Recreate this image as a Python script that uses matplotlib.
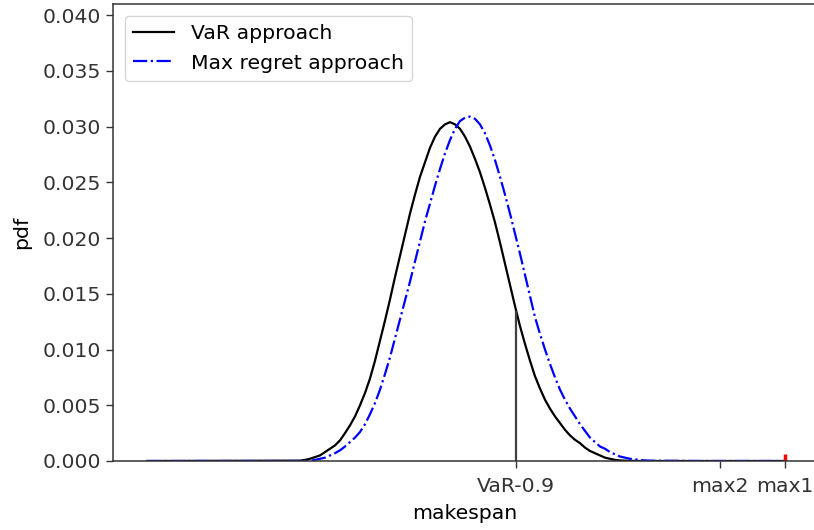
import matplotlib
matplotlib.use("Agg")
import matplotlib.pyplot as plt

# makespan grid shared by both density estimates
makespan = [60.0,
            98.25, 99.5, 100.75, 102.0, 103.25, 104.5, 105.75, 107.0, 108.25, 109.5,
            110.75, 112.0, 113.25, 114.5, 115.75, 117.0, 118.25, 119.5, 120.75, 122.0,
            123.25, 124.5, 125.75, 127.0, 128.25, 129.5, 130.75, 132.0, 133.25, 134.5,
            135.75, 137.0, 138.25, 139.5, 140.75, 142.0, 143.25, 144.5, 145.75, 147.0,
            148.25, 149.5, 150.75, 152.0, 153.25, 154.5, 155.75, 157.0, 158.25, 159.5,
            160.75, 162.0, 163.25, 164.5, 165.75, 167.0, 168.25, 169.5, 170.75, 172.0,
            173.25, 174.5, 175.75, 177.0, 178.25, 179.5, 180.75, 182.0, 183.25, 184.5,
            185.75,
            198.25, 219.5]

var_pdf = [0.0,
           0.00003, 0.0001, 0.0002, 0.00035, 0.0005, 0.0008, 0.0011, 0.0014, 0.00185, 0.0025,
           0.0032, 0.0040, 0.0050, 0.0061, 0.0074, 0.0090, 0.0108, 0.0126, 0.0145, 0.0165,
           0.0184, 0.0203, 0.0222, 0.0239, 0.0255, 0.0268, 0.0281, 0.0291, 0.0298, 0.0302,
           0.0304, 0.0302, 0.0298, 0.0291, 0.0282, 0.0271, 0.0259, 0.0245, 0.0230, 0.0214,
           0.0196, 0.0177, 0.0158, 0.0139, 0.0121, 0.0105, 0.0090, 0.0076, 0.0065, 0.0055,
           0.0047, 0.0040, 0.0034, 0.0028, 0.0023, 0.0019, 0.0016, 0.0012, 0.0009, 0.0007,
           0.0005, 0.0003, 0.0002, 0.0001, 0.00005, 0.00003, 0.00002, 0.00001, 0.0, 0.0,
           0.0,
           0.0, 0.0]

regret_pdf = [0.0,
              0.0, 0.0, 0.00002, 0.0001, 0.0002, 0.0003, 0.0005, 0.0007, 0.00096, 0.0013,
              0.0017, 0.0021, 0.0026, 0.0033, 0.0042, 0.0052, 0.0064, 0.0078, 0.0093, 0.0110,
              0.0127, 0.0144, 0.0161, 0.0179, 0.0197, 0.0215, 0.0231, 0.0247, 0.0262, 0.0276,
              0.0288, 0.0298, 0.0305, 0.0308, 0.0309, 0.0307, 0.0302, 0.0294, 0.0283, 0.0270,
              0.0255, 0.0239, 0.0222, 0.0204, 0.0186, 0.0167, 0.0148, 0.0129, 0.0114, 0.0100,
              0.0087, 0.0075, 0.0064, 0.0055, 0.0047, 0.0040, 0.0033, 0.0027, 0.0021, 0.0017,
              0.0013, 0.0011, 0.0008, 0.0006, 0.0004, 0.0003, 0.0002, 0.00015, 0.0001, 0.00005,
              0.00003,
              0.0, 0.0]

var_09 = 152.25
var_09_pdf = 0.0135
max2 = 203.25
max1 = 219.5
max1_pdf = 0.0006

xtick_pos = [var_09, max2, max1]
xtick_labels = ["VaR-0.9", "max2", "max1"]
ytick_pos = [0.0, 0.005, 0.010, 0.015, 0.020, 0.025, 0.030, 0.035, 0.040]

plt.rcParams["font.family"] = "DejaVu Sans"
plt.rcParams["font.size"] = 14.7

fig = plt.figure(figsize=(8.14, 5.30), dpi=100)
ax = fig.add_axes([113 / 814, 69 / 530, 704 / 814, 457 / 530])

ax.plot(makespan, var_pdf, color="k", lw=1.6, label="VaR approach")
ax.plot(makespan, regret_pdf, color="b", lw=1.6, linestyle="-.", label="Max regret approach")
ax.vlines(var_09, 0, var_09_pdf, color="0.25", lw=1.6)
ax.vlines(max1, 0, max1_pdf, color="r", lw=2.5)

ax.set_xlim(51.5, 227.5)
ax.set_ylim(0, 0.0410)
ax.set_xticks(xtick_pos)
ax.set_xticklabels(xtick_labels)
ax.set_yticks(ytick_pos)
ax.set_yticklabels(["%.3f" % v for v in ytick_pos])
ax.tick_params(length=5, width=1.0, colors="0.2")
ax.tick_params(axis="x", pad=6.5)
for s in ax.spines.values():
    s.set_linewidth(1.1)
    s.set_color("0.2")

ax.set_xlabel("makespan", labelpad=6)
ax.set_ylabel("pdf", labelpad=8)
ax.legend(loc="upper left", handlelength=2.0, borderaxespad=0.6)

fig.savefig("out.png", dpi=100)
